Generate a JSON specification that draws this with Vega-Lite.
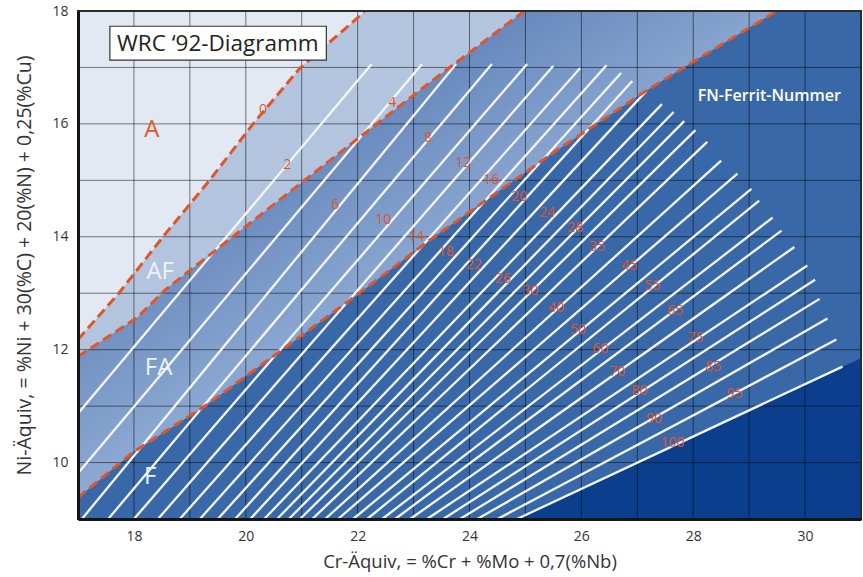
{
  "$schema": "https://vega.github.io/schema/vega-lite/v6.json",
  "width": 783,
  "height": 508,
  "autosize": {"type": "none"},
  "padding": {"left": 78, "top": 11, "right": 2, "bottom": 58},
  "background": "white",
  "config": {"view": {"fill": "#e2e9f3", "stroke": null}, "font": "Open Sans"},
  "datasets": {
    "regions": [
      {"r": "AF", "x": 17, "y": 12.18}, {"r": "AF", "x": 17.73, "y": 13.0}, {"r": "AF", "x": 18.52, "y": 14.0}, {"r": "AF", "x": 19.36, "y": 15.01}, {"r": "AF", "x": 20.13, "y": 16.0}, {"r": "AF", "x": 20.97, "y": 16.99}, {"r": "AF", "x": 22.08, "y": 17.95}, {"r": "AF", "x": 22.12, "y": 18}, {"r": "AF", "x": 31, "y": 18},
      {"r": "FA", "x": 17, "y": 11.88}, {"r": "FA", "x": 18.06, "y": 12.57}, {"r": "FA", "x": 18.56, "y": 13.06}, {"r": "FA", "x": 21.01, "y": 14.97}, {"r": "FA", "x": 23.3, "y": 16.74}, {"r": "FA", "x": 24.98, "y": 18}, {"r": "FA", "x": 31, "y": 18},
      {"r": "F", "x": 17, "y": 9.38}, {"r": "F", "x": 17.98, "y": 10.18}, {"r": "F", "x": 19.31, "y": 11.03}, {"r": "F", "x": 20.97, "y": 12.23}, {"r": "F", "x": 22.04, "y": 13.01}, {"r": "F", "x": 23.3, "y": 13.95}, {"r": "F", "x": 25.5, "y": 15.49}, {"r": "F", "x": 27.18, "y": 16.6}, {"r": "F", "x": 28.0, "y": 17.1}, {"r": "F", "x": 29.43, "y": 17.96}, {"r": "F", "x": 29.49, "y": 18}, {"r": "F", "x": 31, "y": 18},
      {"r": "D", "x": 24.85, "y": 9}, {"r": "D", "x": 31, "y": 11.85}
    ],
    "bounds": [
      {"b": "A/AF", "x": 17, "y": 12.18}, {"b": "A/AF", "x": 17.73, "y": 13.0}, {"b": "A/AF", "x": 18.52, "y": 14.0}, {"b": "A/AF", "x": 19.36, "y": 15.01}, {"b": "A/AF", "x": 20.13, "y": 16.0}, {"b": "A/AF", "x": 20.97, "y": 16.99}, {"b": "A/AF", "x": 22.08, "y": 17.95}, {"b": "A/AF", "x": 22.12, "y": 18},
      {"b": "AF/FA", "x": 17, "y": 11.88}, {"b": "AF/FA", "x": 18.06, "y": 12.57}, {"b": "AF/FA", "x": 18.56, "y": 13.06}, {"b": "AF/FA", "x": 21.01, "y": 14.97}, {"b": "AF/FA", "x": 23.3, "y": 16.74}, {"b": "AF/FA", "x": 24.98, "y": 18},
      {"b": "FA/F", "x": 17, "y": 9.38}, {"b": "FA/F", "x": 17.98, "y": 10.18}, {"b": "FA/F", "x": 19.31, "y": 11.03}, {"b": "FA/F", "x": 20.97, "y": 12.23}, {"b": "FA/F", "x": 22.04, "y": 13.01}, {"b": "FA/F", "x": 23.3, "y": 13.95}, {"b": "FA/F", "x": 25.5, "y": 15.49}, {"b": "FA/F", "x": 27.18, "y": 16.6}, {"b": "FA/F", "x": 28.0, "y": 17.1}, {"b": "FA/F", "x": 29.43, "y": 17.96}, {"b": "FA/F", "x": 29.49, "y": 18}
    ],
    "fnlines": [
      {"fn": 2, "x": 17, "y": 10.87}, {"fn": 2, "x": 22.25, "y": 17.06},
      {"fn": 4, "x": 17, "y": 9.81}, {"fn": 4, "x": 23.15, "y": 17.06},
      {"fn": 6, "x": 17.07, "y": 9}, {"fn": 6, "x": 23.76, "y": 17.06},
      {"fn": 8, "x": 17.54, "y": 9}, {"fn": 8, "x": 24.4, "y": 17.06},
      {"fn": 10, "x": 18.0, "y": 9}, {"fn": 10, "x": 25.03, "y": 17.06},
      {"fn": 12, "x": 18.43, "y": 9}, {"fn": 12, "x": 25.5, "y": 17.03},
      {"fn": 14, "x": 18.82, "y": 9}, {"fn": 14, "x": 25.98, "y": 16.99},
      {"fn": 16, "x": 19.18, "y": 9}, {"fn": 16, "x": 26.45, "y": 17.04},
      {"fn": 18, "x": 19.5, "y": 9}, {"fn": 18, "x": 26.71, "y": 16.9},
      {"fn": 20, "x": 19.81, "y": 9}, {"fn": 20, "x": 26.91, "y": 16.76},
      {"fn": 22, "x": 20.08, "y": 9}, {"fn": 22, "x": 27.16, "y": 16.58},
      {"fn": 24, "x": 20.33, "y": 9}, {"fn": 24, "x": 27.44, "y": 16.35},
      {"fn": 26, "x": 20.56, "y": 9}, {"fn": 26, "x": 27.65, "y": 16.21},
      {"fn": 28, "x": 20.77, "y": 9}, {"fn": 28, "x": 27.84, "y": 16.05},
      {"fn": 30, "x": 20.97, "y": 9}, {"fn": 30, "x": 28.04, "y": 15.89},
      {"fn": 35, "x": 21.19, "y": 9}, {"fn": 35, "x": 28.25, "y": 15.68},
      {"fn": 40, "x": 21.42, "y": 9}, {"fn": 40, "x": 28.5, "y": 15.35},
      {"fn": 45, "x": 21.65, "y": 9}, {"fn": 45, "x": 28.79, "y": 15.12},
      {"fn": 50, "x": 21.92, "y": 9}, {"fn": 50, "x": 29.04, "y": 14.85},
      {"fn": 55, "x": 22.17, "y": 9}, {"fn": 55, "x": 29.18, "y": 14.64},
      {"fn": 60, "x": 22.44, "y": 9}, {"fn": 60, "x": 29.42, "y": 14.34},
      {"fn": 65, "x": 22.67, "y": 9}, {"fn": 65, "x": 29.58, "y": 14.11},
      {"fn": 70, "x": 22.94, "y": 9}, {"fn": 70, "x": 29.81, "y": 13.82},
      {"fn": 75, "x": 23.24, "y": 9}, {"fn": 75, "x": 30.04, "y": 13.49},
      {"fn": 80, "x": 23.53, "y": 9}, {"fn": 80, "x": 30.18, "y": 13.24},
      {"fn": 85, "x": 23.83, "y": 9}, {"fn": 85, "x": 30.26, "y": 12.9},
      {"fn": 90, "x": 24.14, "y": 9}, {"fn": 90, "x": 30.4, "y": 12.55},
      {"fn": 95, "x": 24.5, "y": 9}, {"fn": 95, "x": 30.56, "y": 12.18},
      {"fn": 100, "x": 24.85, "y": 9}, {"fn": 100, "x": 30.67, "y": 11.7}
    ],
    "fnlabels": [
      {"t": "0", "x": 20.31, "y": 16.25}, {"t": "2", "x": 20.74, "y": 15.27}, {"t": "4", "x": 22.62, "y": 16.37}, {"t": "6", "x": 21.6, "y": 14.57},
      {"t": "8", "x": 23.26, "y": 15.75}, {"t": "10", "x": 22.46, "y": 14.3}, {"t": "12", "x": 23.89, "y": 15.31}, {"t": "14", "x": 23.05, "y": 14.0},
      {"t": "16", "x": 24.39, "y": 15.01}, {"t": "18", "x": 23.58, "y": 13.73}, {"t": "20", "x": 24.89, "y": 14.71}, {"t": "22", "x": 24.08, "y": 13.5},
      {"t": "24", "x": 25.39, "y": 14.42}, {"t": "26", "x": 24.6, "y": 13.26}, {"t": "28", "x": 25.89, "y": 14.16}, {"t": "30", "x": 25.09, "y": 13.04},
      {"t": "35", "x": 26.28, "y": 13.82}, {"t": "40", "x": 25.55, "y": 12.73}, {"t": "45", "x": 26.86, "y": 13.49}, {"t": "50", "x": 25.94, "y": 12.35},
      {"t": "55", "x": 27.27, "y": 13.13}, {"t": "60", "x": 26.34, "y": 12.02}, {"t": "65", "x": 27.68, "y": 12.69}, {"t": "70", "x": 26.64, "y": 11.61},
      {"t": "75", "x": 28.04, "y": 12.21}, {"t": "80", "x": 27.04, "y": 11.26}, {"t": "85", "x": 28.36, "y": 11.7}, {"t": "90", "x": 27.3, "y": 10.78},
      {"t": "95", "x": 28.74, "y": 11.22}, {"t": "100", "x": 27.63, "y": 10.35}
    ],
    "phases": [
      {"t": "A", "x": 18.32, "y": 15.89}, {"t": "AF", "x": 18.47, "y": 13.38}, {"t": "FA", "x": 18.44, "y": 11.68}, {"t": "F", "x": 18.29, "y": 9.75}
    ],
    "gridx": [{"v": 17}, {"v": 18}, {"v": 19}, {"v": 20}, {"v": 21}, {"v": 22}, {"v": 23}, {"v": 24}, {"v": 25}, {"v": 26}, {"v": 27}, {"v": 28}, {"v": 29}, {"v": 30}, {"v": 31}],
    "gridy": [{"v": 9}, {"v": 10}, {"v": 11}, {"v": 12}, {"v": 13}, {"v": 14}, {"v": 15}, {"v": 16}, {"v": 17}, {"v": 18}]
  },
  "layer": [
    {
      "data": {"name": "regions"},
      "transform": [{"filter": "datum.r == 'AF'"}],
      "mark": {"type": "area", "color": "#b3c5de"},
      "encoding": {
        "x": {"field": "x", "type": "quantitative", "scale": {"domain": [17, 31], "nice": false, "zero": false},
          "axis": {"title": "Cr-Äquiv, = %Cr + %Mo + 0,7(%Nb)", "values": [18, 20, 22, 24, 26, 28, 30], "format": "d", "grid": false, "ticks": false, "domainColor": "#151515", "domainWidth": 3, "labelFontSize": 14, "labelColor": "#333333", "labelPadding": 10, "labelFlush": false, "titleFontSize": 18.5, "titleFontWeight": "normal", "titleColor": "#333333", "titlePadding": 9, "zindex": 1}},
        "y": {"field": "y", "type": "quantitative", "scale": {"domain": [9, 18], "nice": false, "zero": false},
          "axis": {"title": "Ni-Äquiv, = %Ni + 30(%C) + 20(%N) + 0,25(%Cu)", "values": [10, 12, 14, 16, 18], "format": "d", "grid": false, "ticks": false, "domainColor": "#151515", "domainWidth": 3, "labelFontSize": 14, "labelColor": "#333333", "labelPadding": 10, "titleFontSize": 19.5, "titleFontWeight": "normal", "titleColor": "#333333", "titlePadding": 17, "zindex": 1}},
        "y2": {"datum": 9}
      }
    },
    {
      "data": {"name": "regions"},
      "transform": [{"filter": "datum.r == 'FA'"}],
      "mark": {"type": "area", "color": {"gradient": "linear", "x1": 0, "y1": 0, "x2": 1, "y2": 1, "stops": [{"offset": 0.28, "color": "#6788bd"}, {"offset": 0.48, "color": "#8eaad3"}]}},
      "encoding": {"x": {"field": "x", "type": "quantitative"}, "y": {"field": "y", "type": "quantitative"}, "y2": {"datum": 9}}
    },
    {
      "data": {"name": "regions"},
      "transform": [{"filter": "datum.r == 'F'"}],
      "mark": {"type": "area", "color": "#3968a8"},
      "encoding": {"x": {"field": "x", "type": "quantitative"}, "y": {"field": "y", "type": "quantitative"}, "y2": {"datum": 9}}
    },
    {
      "data": {"name": "regions"},
      "transform": [{"filter": "datum.r == 'D'"}],
      "mark": {"type": "area", "color": "#0b3f8d"},
      "encoding": {"x": {"field": "x", "type": "quantitative"}, "y": {"field": "y", "type": "quantitative"}, "y2": {"datum": 9}}
    },
    {
      "data": {"name": "gridx"},
      "mark": {"type": "rule", "color": "#000000", "opacity": 0.5, "strokeWidth": 1},
      "encoding": {"x": {"field": "v", "type": "quantitative"}}
    },
    {
      "data": {"name": "gridy"},
      "mark": {"type": "rule", "color": "#000000", "opacity": 0.5, "strokeWidth": 1},
      "encoding": {"y": {"field": "v", "type": "quantitative"}}
    },
    {
      "data": {"name": "fnlines"},
      "mark": {"type": "line", "color": "#f3f6fb", "strokeWidth": 2.3},
      "encoding": {"x": {"field": "x", "type": "quantitative"}, "y": {"field": "y", "type": "quantitative"}, "detail": {"field": "fn", "type": "nominal"}}
    },
    {
      "data": {"name": "bounds"},
      "mark": {"type": "line", "color": "#e0562a", "strokeWidth": 3, "strokeDash": [10, 5]},
      "encoding": {"x": {"field": "x", "type": "quantitative"}, "y": {"field": "y", "type": "quantitative"}, "detail": {"field": "b", "type": "nominal"}}
    },
    {
      "data": {"name": "fnlabels"},
      "mark": {"type": "text", "color": "#e0552b", "fontSize": 14, "align": "center", "baseline": "middle"},
      "encoding": {"x": {"field": "x", "type": "quantitative"}, "y": {"field": "y", "type": "quantitative"}, "text": {"field": "t"}}
    },
    {
      "data": {"name": "phases"},
      "mark": {"type": "text", "fontSize": 24, "align": "center", "baseline": "middle"},
      "encoding": {"x": {"field": "x", "type": "quantitative"}, "y": {"field": "y", "type": "quantitative"}, "text": {"field": "t"},
        "color": {"condition": {"test": "datum.t == 'A'", "value": "#dc5a2e"}, "value": "#eef3fa"}}
    },
    {
      "data": {"values": [{"x": 17.57, "x2": 21.44, "y": 17.13, "y2": 17.73}]},
      "mark": {"type": "rect", "fill": "#ffffff", "stroke": "#333333", "strokeWidth": 1.2},
      "encoding": {"x": {"field": "x", "type": "quantitative"}, "x2": {"field": "x2"}, "y": {"field": "y", "type": "quantitative"}, "y2": {"field": "y2"}}
    },
    {
      "data": {"values": [{"t": "WRC ‘92-Diagramm", "x": 19.5, "y": 17.42}]},
      "mark": {"type": "text", "align": "center", "baseline": "middle", "fontSize": 22.5, "color": "#222222"},
      "encoding": {"x": {"field": "x", "type": "quantitative"}, "y": {"field": "y", "type": "quantitative"}, "text": {"field": "t"}}
    },
    {
      "data": {"values": [{"t": "FN-Ferrit-Nummer", "x": 29.36, "y": 16.5}]},
      "mark": {"type": "text", "align": "center", "baseline": "middle", "fontSize": 16, "fontWeight": 600, "color": "#ffffff"},
      "encoding": {"x": {"field": "x", "type": "quantitative"}, "y": {"field": "y", "type": "quantitative"}, "text": {"field": "t"}}
    },
    {
      "data": {"values": [{"x": 17, "x2": 31, "y": 9, "y2": 18}]},
      "mark": {"type": "rect", "filled": false, "color": "#2b2b2b", "strokeWidth": 2},
      "encoding": {"x": {"field": "x", "type": "quantitative"}, "x2": {"field": "x2"}, "y": {"field": "y", "type": "quantitative"}, "y2": {"field": "y2"}}
    }
  ]
}
